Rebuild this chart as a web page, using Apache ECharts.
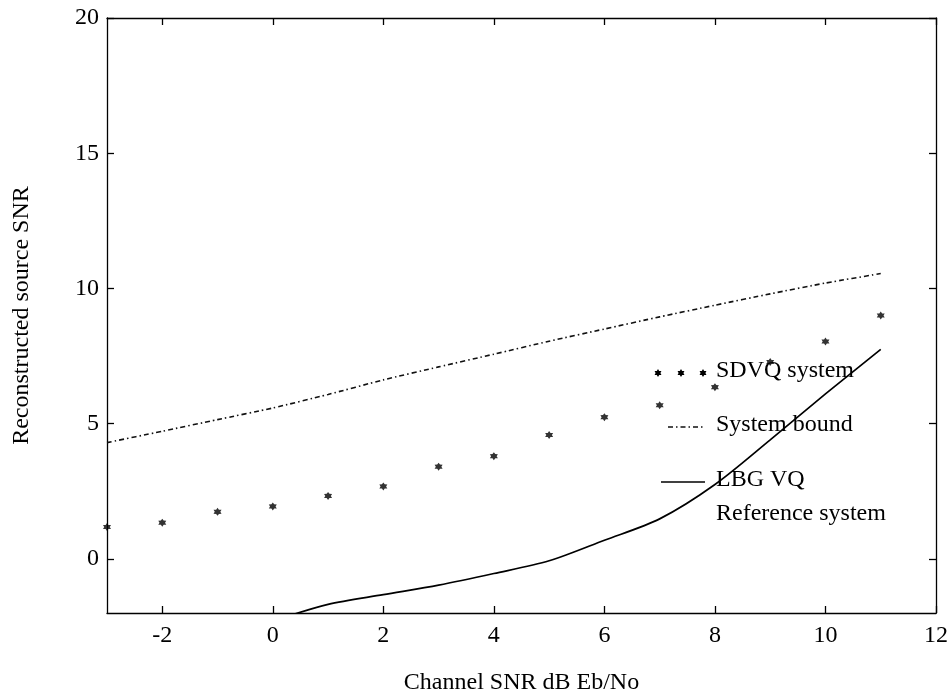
<!DOCTYPE html>
<html>
<head>
<meta charset="utf-8">
<script src="https://cdn.jsdelivr.net/npm/echarts@6/dist/echarts.min.js"></script>
<style>html,body{margin:0;padding:0;background:#fff}#c{width:951px;height:700px}</style>
</head>
<body>
<div id="c"></div>
<script>
// ---- data ----
const channelSnr = [-3, -2, -1, 0, 1, 2, 3, 4, 5, 6, 7, 8, 9, 10, 11];
const sdvqSystem = [1.18, 1.34, 1.74, 1.94, 2.33, 2.68, 3.41, 3.80, 4.58, 5.24, 5.68, 6.35, 7.28, 8.04, 9.00];
const systemBound = [4.30, 4.72, 5.15, 5.58, 6.08, 6.62, 7.10, 7.57, 8.05, 8.50, 8.95, 9.38, 9.80, 10.20, 10.55];
const lbgSnr = [0, 1, 2, 3, 4, 5, 6, 7, 8, 9, 10, 11];
const lbgVq = [-2.30, -1.68, -1.32, -0.97, -0.54, -0.07, 0.69, 1.48, 2.75, 4.40, 6.10, 7.75];
const xTicks = [-2, 0, 2, 4, 6, 8, 10, 12];
const yTicks = [0, 5, 10, 15, 20];
const legendLabels = ['SDVQ system', 'System bound', 'LBG VQ', 'Reference system'];

// ---- styles ----
const FONT = 'Liberation Serif';
function starPoints(cx, cy, ro, ri) {
  const pts = [];
  for (let k = 0; k < 12; k++) {
    const a = -Math.PI / 2 + k * Math.PI / 6;
    const r = k % 2 === 0 ? ro : ri;
    pts.push([cx + r * Math.cos(a), cy + r * Math.sin(a)]);
  }
  return pts;
}
const sp = starPoints(10, 10, 10, 6);
const starPath = 'path://M' + sp.map(p => p[0].toFixed(2) + ',' + p[1].toFixed(2)).join('L') + 'Z';
const dashDot = [5, 3, 1.5, 3];

const chart = echarts.init(document.getElementById('c'), null, {renderer: 'canvas'});
const axisLineStyle = {color: '#000', width: 1.3};
const xCommon = {
  type: 'value', min: -3, max: 12,
  axisLine: {show: true, onZero: false, lineStyle: axisLineStyle},
  axisTick: {show: true, inside: true, length: 7, customValues: xTicks, lineStyle: {color: '#000', width: 1.3}},
  splitLine: {show: false}
};
const yCommon = {
  type: 'value', min: -2, max: 20,
  axisLine: {show: true, onZero: false, lineStyle: axisLineStyle},
  axisTick: {show: true, inside: true, length: 7, customValues: yTicks, lineStyle: {color: '#000', width: 1.3}},
  splitLine: {show: false}
};

const legendX = 716;
const option = {
  backgroundColor: '#fff',
  animation: false,
  grid: {left: 107, right: 14, top: 18, bottom: 85},
  xAxis: [
    Object.assign({}, xCommon, {
      position: 'bottom',
      axisLabel: {show: true, customValues: xTicks, color: '#000', fontFamily: FONT, fontSize: 24, margin: 11},
      name: 'Channel SNR dB Eb/No', nameLocation: 'middle', nameGap: 58,
      nameTextStyle: {color: '#000', fontFamily: FONT, fontSize: 24}
    }),
    Object.assign({}, xCommon, {position: 'top', axisLabel: {show: false}})
  ],
  yAxis: [
    Object.assign({}, yCommon, {
      position: 'left',
      axisLabel: {show: true, customValues: yTicks, color: '#000', fontFamily: FONT, fontSize: 24, margin: 8},
      name: 'Reconstructed source SNR', nameLocation: 'middle', nameGap: 73, nameRotate: 90,
      nameTextStyle: {color: '#000', fontFamily: FONT, fontSize: 24}
    }),
    Object.assign({}, yCommon, {position: 'right', axisLabel: {show: false}})
  ],
  series: [
    {
      name: 'System bound', type: 'line', xAxisIndex: 0, yAxisIndex: 0,
      data: channelSnr.map((x, i) => [x, systemBound[i]]),
      showSymbol: false, symbol: 'none', smooth: 0.2,
      lineStyle: {color: '#111', width: 1.6, type: dashDot}
    },
    {
      name: 'LBG VQ', type: 'line', xAxisIndex: 0, yAxisIndex: 0,
      data: lbgSnr.map((x, i) => [x, lbgVq[i]]),
      showSymbol: false, symbol: 'none', clip: true, smooth: 0.3,
      lineStyle: {color: '#000', width: 1.7}
    },
    {
      name: 'SDVQ system', type: 'scatter', xAxisIndex: 0, yAxisIndex: 0,
      data: channelSnr.map((x, i) => [x, sdvqSystem[i]]),
      symbol: starPath, symbolSize: 8, clip: false,
      itemStyle: {color: '#000'}
    }
  ],
  graphic: [
    ...[658, 681, 703].map(cx => ({
      type: 'polygon', shape: {points: starPoints(cx, 373, 4, 2.4)}, style: {fill: '#000'}, z: 100
    })),
    {type: 'text', left: legendX, top: 373 - 14, style: {text: legendLabels[0], font: '24px "' + FONT + '"', fill: '#000'}, z: 100},
    {type: 'line', shape: {x1: 668, y1: 427, x2: 705, y2: 427}, style: {stroke: '#111', lineWidth: 1.4, lineDash: dashDot}, z: 100},
    {type: 'text', left: legendX, top: 427 - 14, style: {text: legendLabels[1], font: '24px "' + FONT + '"', fill: '#000'}, z: 100},
    {type: 'line', shape: {x1: 661, y1: 482, x2: 705, y2: 482}, style: {stroke: '#000', lineWidth: 1.6}, z: 100},
    {type: 'text', left: legendX, top: 482 - 14, style: {text: legendLabels[2], font: '24px "' + FONT + '"', fill: '#000'}, z: 100},
    {type: 'text', left: legendX, top: 516 - 14, style: {text: legendLabels[3], font: '24px "' + FONT + '"', fill: '#000'}, z: 100}
  ]
};
chart.setOption(option);
</script>
</body>
</html>
